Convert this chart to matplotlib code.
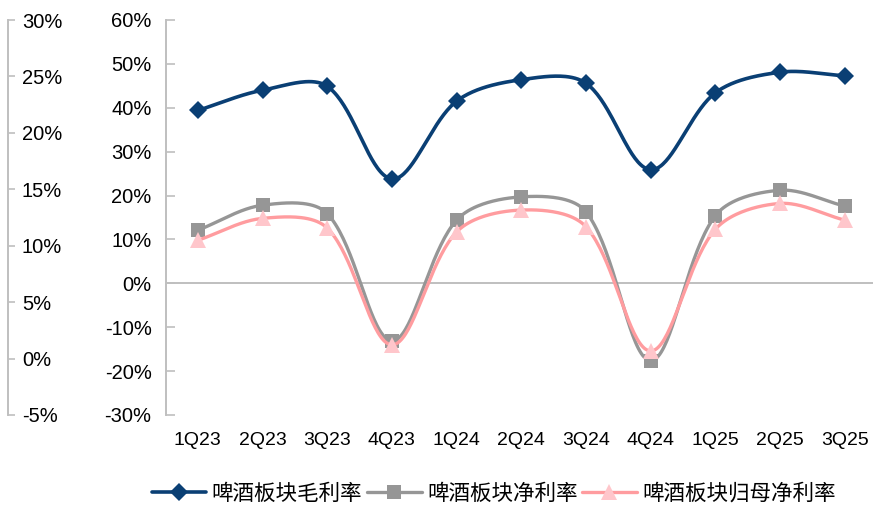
import numpy as np
import matplotlib
matplotlib.use("Agg")
import matplotlib.pyplot as plt
from matplotlib.ticker import FixedLocator, FuncFormatter

# ---- data -------------------------------------------------------------
quarters = ["1Q23", "2Q23", "3Q23", "4Q23", "1Q24", "2Q24", "3Q24", "4Q24",
            "1Q25", "2Q25", "3Q25"]
gross_margin = [39.4, 44.0, 44.9, 23.8, 41.5, 46.4, 45.6, 25.9, 43.4, 48.1, 47.3]
net_margin = [12.1, 17.8, 15.9, -13.1, 14.4, 19.7, 16.3, -17.6, 15.4, 21.2, 17.6]
parent_net_margin = [9.8, 14.8, 12.6, -14.0, 11.7, 16.7, 12.9, -15.4, 12.3, 18.2, 14.4]
series_names = ["啤酒板块毛利率", "啤酒板块净利率", "啤酒板块归母净利率"]

main_ticks = [-30, -20, -10, 0, 10, 20, 30, 40, 50, 60]
side_ticks = [-5, 0, 5, 10, 15, 20, 25, 30]

# ---- style ------------------------------------------------------------
NAVY = "#0A3F74"
GREY = "#969696"
PINK_LINE = "#FF9C9F"
PINK_MARK = "#FFC6CB"
AXIS_GREY = "#BFBFBF"
TICK_FONT = "Liberation Sans"
CJK_FONT = ["Noto Sans CJK SC", "DejaVu Sans"]


def smooth(axes, xs, ys, nseg=40):
    """Cubic Bezier through every point; tangents are split in proportion
    to the on-screen lengths of the neighbouring segments."""
    pts = axes.transData.transform(np.column_stack([xs, ys]).astype(float))
    n = len(pts)
    seg = np.hypot(*np.diff(pts, axis=0).T)
    c_out = pts.copy()
    c_in = pts.copy()
    for i in range(n):
        prev_p = pts[max(i - 1, 0)]
        next_p = pts[min(i + 1, n - 1)]
        tan = next_p - prev_p
        d_prev = seg[i - 1] if i > 0 else 0.0
        d_next = seg[i] if i < n - 1 else 0.0
        tot = d_prev + d_next
        if tot == 0:
            continue
        c_out[i] = pts[i] + tan * (d_next / tot) / 3.0
        c_in[i] = pts[i] - tan * (d_prev / tot) / 3.0
    t = np.linspace(0, 1, nseg, endpoint=False)[:, None]
    parts = []
    for i in range(n - 1):
        p0, c1, c2, p3 = pts[i], c_out[i], c_in[i + 1], pts[i + 1]
        parts.append(((1 - t) ** 3) * p0 + 3 * ((1 - t) ** 2) * t * c1
                     + 3 * (1 - t) * t ** 2 * c2 + t ** 3 * p3)
    parts.append(pts[-1:])
    curve = axes.transData.inverted().transform(np.vstack(parts))
    return curve[:, 0], curve[:, 1], nseg


W, H = 873, 505
fig = plt.figure(figsize=(W / 100, H / 100), dpi=100)

left_px, right_px, top_px, bottom_px = 165.5, 877.0, 20.0, 415.0
ax = fig.add_axes([left_px / W, 1 - bottom_px / H,
                   (right_px - left_px) / W, (bottom_px - top_px) / H])

xpos = np.arange(len(quarters))
ax.set_xlim(-0.5, len(quarters) - 0.5)
ax.set_ylim(-30, 60)

styles = [
    dict(values=gross_margin, color=NAVY, lw=2.6, marker="D", ms=8.8,
         mfc=NAVY, name=series_names[0]),
    dict(values=net_margin, color=GREY, lw=2.4, marker="s", ms=10.5,
         mfc=GREY, name=series_names[1]),
    dict(values=parent_net_margin, color=PINK_LINE, lw=2.4, marker="^", ms=11,
         mfc=PINK_MARK, name=series_names[2]),
]

ax.axhline(0, color=AXIS_GREY, lw=1.4, zorder=1)

for z, s in enumerate(styles):
    cx, cy, nseg = smooth(ax, xpos, s["values"])
    ax.plot(cx, cy, color=s["color"], lw=s["lw"], marker=s["marker"],
            markersize=s["ms"], markerfacecolor=s["mfc"],
            markeredgecolor=s["mfc"], markeredgewidth=0,
            markevery=list(range(0, len(cx), nseg)),
            label=s["name"], zorder=3 + z, solid_capstyle="round")

ax.set_xlim(-0.5, len(quarters) - 0.5)
ax.set_ylim(-30, 60)
ax.set_xticks(xpos)
ax.set_xticklabels(quarters, fontfamily=TICK_FONT, fontsize=14)
ax.tick_params(axis="x", length=0, pad=12)
ax.yaxis.set_major_locator(FixedLocator(main_ticks))
ax.yaxis.set_major_formatter(FuncFormatter(lambda v, p: f"{v:.0f}%"))
ax.tick_params(axis="y", direction="in", length=6.5, width=1.2,
               color=AXIS_GREY, pad=10, labelsize=14.5)
for lab in ax.get_yticklabels():
    lab.set_fontfamily(TICK_FONT)
for side in ("top", "right", "bottom"):
    ax.spines[side].set_visible(False)
ax.spines["left"].set_color(AXIS_GREY)
ax.spines["left"].set_linewidth(1.4)
ax.patch.set_visible(False)

# secondary percentage scale on the far left
axs = fig.add_axes([0, 1 - bottom_px / H, 8 / W, (bottom_px - top_px) / H])
axs.set_ylim(-5, 30)
axs.set_xticks([])
axs.yaxis.tick_right()
axs.yaxis.set_major_locator(FixedLocator(side_ticks))
axs.yaxis.set_major_formatter(FuncFormatter(lambda v, p: f"{v:.0f}%"))
axs.tick_params(axis="y", direction="out", length=5, width=1.2,
                color=AXIS_GREY, pad=5, labelsize=14.5)
for lab in axs.get_yticklabels():
    lab.set_fontfamily(TICK_FONT)
for side in ("top", "left", "bottom"):
    axs.spines[side].set_visible(False)
axs.spines["right"].set_color(AXIS_GREY)
axs.spines["right"].set_linewidth(1.4)
axs.patch.set_visible(False)

handles, labels = ax.get_legend_handles_labels()
fig.legend(handles, labels, ncol=3, loc="center",
           bbox_to_anchor=(493.5 / W, 1 - 494 / H), frameon=False,
           prop={"family": CJK_FONT, "size": 15.5},
           handlelength=2.55, handletextpad=0.25, columnspacing=0.2,
           numpoints=1, borderpad=0)

fig.savefig("out.png", dpi=100)
